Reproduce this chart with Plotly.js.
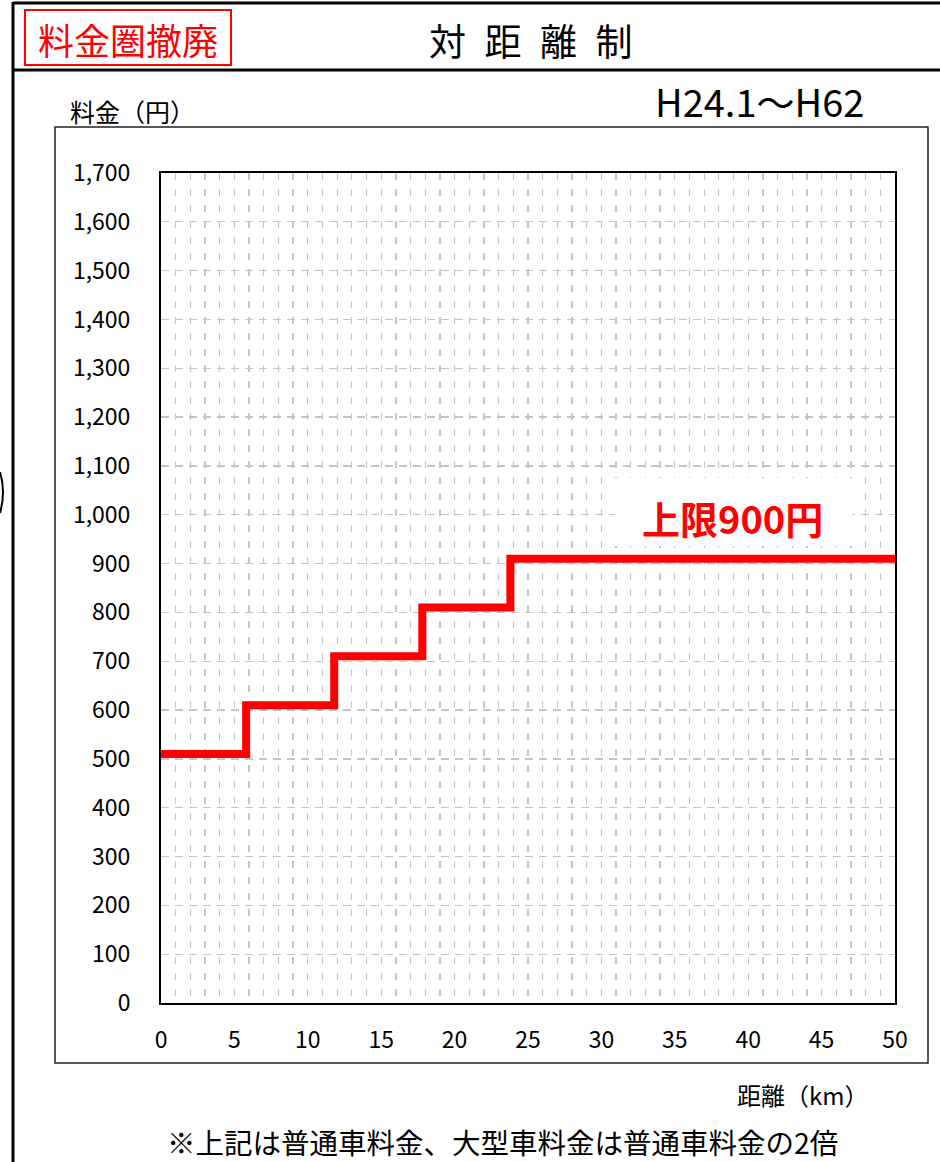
<!DOCTYPE html>
<html>
<head>
<meta charset="utf-8">
<script src="https://cdn.plot.ly/plotly-3.0.1.min.js"></script>
<style>html,body{margin:0;padding:0;background:#fff;}#chart{width:940px;height:1162px;}</style>
</head>
<body>
<div id="chart"></div>
<script>
// ---- data ----
const distanceKm = [0, 5.8, 11.8, 17.8, 23.8, 50];
const fareYen = [510, 610, 710, 810, 910, 910];
const xRange = [0, 50];
const yRange = [0, 1700];
const headerLabel = '料金圏撤廃';
const titleText = '対\u2002距\u2002離\u2002制';
const periodLabel = 'H24.1～H62';
const yTitleText = '料金（円）';
const xTitleText = '距離（km）';
const capLabel = '上限900円';
const footnote = '※上記は普通車料金、大型車料金は普通車料金の2倍';

// ---- layout helpers (pixel -> paper) ----
const W = 940, H = 1162;
const PL = 161, PR = 895, PT = 173, PB = 1003;
const px = x => (x - PL) / (PR - PL);
const py = y => (PB - y) / (PB - PT);
const FONT = '"Noto Sans CJK JP", "Noto Sans", sans-serif';
const GRID = '#c4c4c4';

const trace = {
  x: distanceKm, y: fareYen, type: 'scatter', mode: 'lines',
  line: {shape: 'hv', color: '#ff0000', width: 8},
  hoverinfo: 'skip', cliponaxis: false
};

function line(x0, y0, x1, y1, w, c) {
  return {type: 'line', xref: 'paper', yref: 'paper', x0: px(x0), y0: py(y0), x1: px(x1), y1: py(y1),
    line: {color: c || '#000', width: w}, layer: 'above'};
}
function rect(x0, y0, x1, y1, w, c, fill, layer) {
  return {type: 'rect', xref: 'paper', yref: 'paper', x0: px(x0), y0: py(y0), x1: px(x1), y1: py(y1),
    line: {color: c || '#000', width: w}, fillcolor: fill || 'rgba(0,0,0,0)', layer: layer || 'above'};
}
function text(t, x, y, size, color, extra) {
  return Object.assign({text: t, xref: 'paper', yref: 'paper', x: px(x), y: py(y),
    xanchor: 'center', yanchor: 'middle', showarrow: false, borderpad: 0,
    font: {family: FONT, size: size, color: color || '#000'}}, extra || {});
}

const shapes = [
  line(13, 3, 940, 3, 3),
  line(13, 70, 940, 70, 3),
  line(13, 2, 13, 1162, 3),
  rect(25, 10, 231, 65, 2, '#ff0000'),
  rect(55, 127, 928, 1063, 1.5, '#222', 'rgba(0,0,0,0)', 'below'),
  rect(615, 478, 852, 546, 0, 'rgba(0,0,0,0)', '#ffffff', 'above'),
  {type: 'path', xref: 'paper', yref: 'paper',
   path: 'M' + px(0) + ',' + py(472) + ' Q' + px(6) + ',' + py(492) + ' ' + px(0) + ',' + py(513),
   line: {color: '#000', width: 2}, layer: 'above'}
];

const annotations = [
  text(headerLabel, 128, 39, 36, '#ff0000'),
  text(titleText, 531, 40, 37, '#000'),
  text(periodLabel, 759, 100, 38, '#000'),
  text(yTitleText, 132, 111, 25, '#000'),
  text(xTitleText, 802, 1094, 24, '#000'),
  text(capLabel, 732, 517, 38, '#ff0000', {font: {family: FONT, size: 38, color: '#ff0000', weight: 'bold'}}),
  text(footnote, 502, 1141, 28.5, '#000')
];

const layout = {
  width: W, height: H,
  margin: {l: PL, r: W - PR, t: PT, b: H - PB, pad: 0},
  paper_bgcolor: '#fff', plot_bgcolor: '#fff',
  showlegend: false,
  font: {family: FONT, size: 23, color: '#000'},
  xaxis: {
    range: xRange, dtick: 5, tick0: 0, ticks: '', showline: true, mirror: true,
    linecolor: '#000', linewidth: 2, zeroline: false,
    showgrid: true, gridcolor: GRID, gridwidth: 1.3, griddash: '7px,9px',
    minor: {dtick: 1, showgrid: true, gridcolor: GRID, gridwidth: 1.3, griddash: '7px,9px'},
    tickfont: {family: FONT, size: 23}, ticklabelstandoff: 15, fixedrange: true
  },
  yaxis: {
    range: yRange, dtick: 100, tick0: 0, ticks: '', tickformat: ',d', showline: true, mirror: true,
    linecolor: '#000', linewidth: 2, zeroline: false,
    showgrid: true, gridcolor: GRID, gridwidth: 1.3, griddash: '8px,6px',
    tickfont: {family: FONT, size: 23}, ticklabelstandoff: 24, fixedrange: true
  },
  shapes: shapes,
  annotations: annotations
};

Plotly.newPlot('chart', [trace], layout, {displayModeBar: false, staticPlot: true});
</script>
</body>
</html>
